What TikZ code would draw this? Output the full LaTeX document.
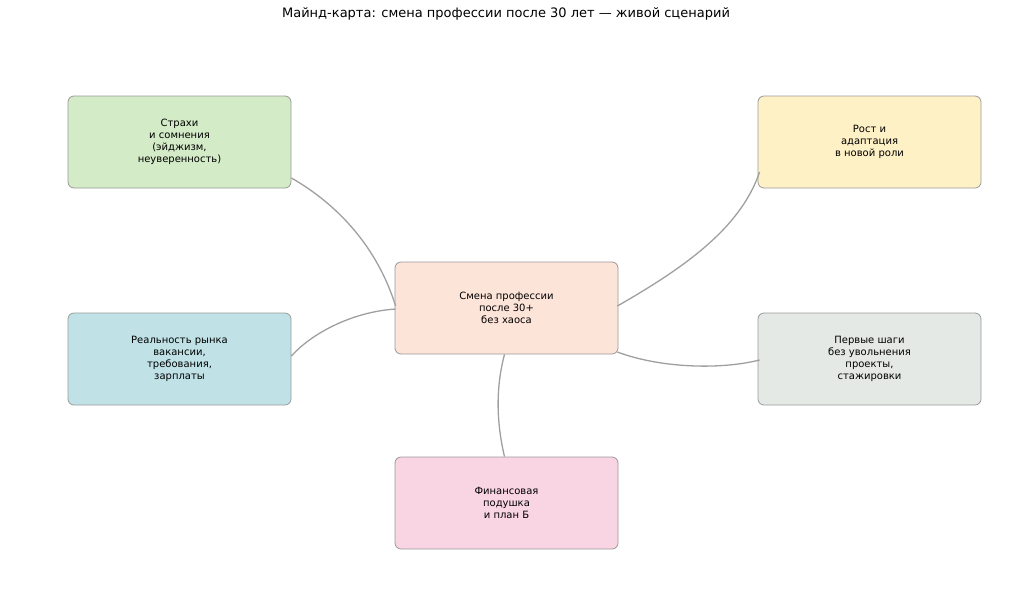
\documentclass[tikz,border=0pt]{standalone}
\usepackage{fontspec}
\setmainfont{DejaVu Sans}
\usetikzlibrary{calc}
\definecolor{cg}{HTML}{D3EBC6}
\definecolor{cy}{HTML}{FEF1C6}
\definecolor{cc}{HTML}{FDE4D9}
\definecolor{cb}{HTML}{C0E2E7}
\definecolor{cx}{HTML}{E4E9E6}
\definecolor{cp}{HTML}{F9D4E3}
\begin{document}
\begin{tikzpicture}[x=1pt,y=-1pt,
 box/.style={draw=gray!80,rounded corners=6pt,minimum width=223pt,minimum height=92pt,align=center,font=\fontsize{10}{12}\selectfont,line width=0.8pt},
 con/.style={draw=gray!75,line width=1.3pt}]
\useasboundingbox (0,0) rectangle (1024,614);
\node[font=\fontsize{13}{15}\selectfont] (t) at (506,14) {Майнд-карта: смена профессии после 30 лет — живой сценарий};
\node[box,fill=cg] (f) at (179.5,142) {Страхи\\и сомнения\\(эйджизм,\\неуверенность)};
\node[box,fill=cy] (g) at (869.5,142) {Рост и\\адаптация\\в новой роли};
\node[box,fill=cc] (c) at (506.5,308) {Смена профессии\\после 30+\\без хаоса};
\node[box,fill=cb] (m) at (179.5,359) {Реальность рынка\\вакансии,\\требования,\\зарплаты};
\node[box,fill=cx] (s) at (869.5,359) {Первые шаги\\без увольнения\\проекты,\\стажировки};
\node[box,fill=cp] (p) at (506.5,503) {Финансовая\\подушка\\и план Б};
\draw[con] ($(c.west)+(1,-2)$) .. controls (375,240) and (330,200) .. ($(f.east)+(0,36)$);
\draw[con] ($(c.west)+(1,1)$) .. controls (350,312) and (310,335) .. ($(m.east)+(0,-3)$);
\draw[con] ($(c.east)+(-1,-2)$) .. controls (680,270) and (740,230) .. ($(g.west)+(2,30)$);
\draw[con] ($(c.east)+(-1,44)$) .. controls (660,368) and (720,370) .. ($(s.west)+(2,1)$);
\draw[con] ($(c.south)+(-2,0)$) .. controls (495,390) and (497,425) .. ($(p.north)+(-2,0)$);
\end{tikzpicture}
\end{document}
